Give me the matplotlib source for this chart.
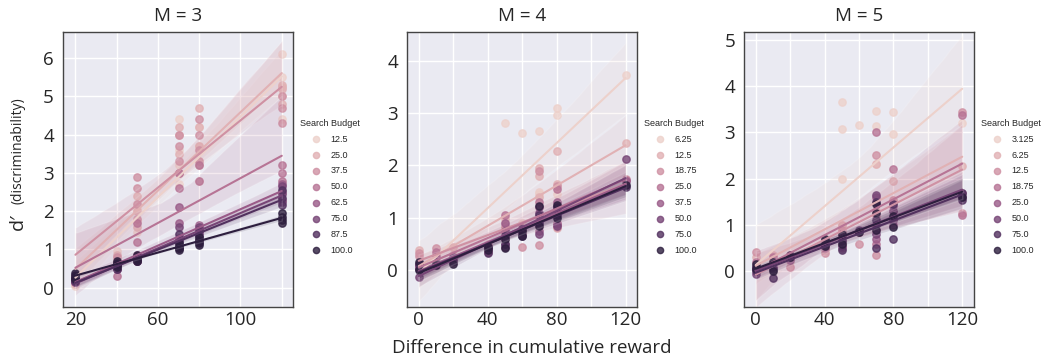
import numpy as np
import pandas as pd
import matplotlib
matplotlib.use("Agg")
import matplotlib.pyplot as plt
import seaborn as sns

# M = 3 : one list per search budget, inside it one list of d' values per reward difference
m3_budgets = [12.5, 25.0, 37.5, 50.0, 62.5, 75.0, 87.5, 100.0]
m3_diffs = [20, 40, 50, 70, 80, 120]
m3_dprime = [
    [[0.05, 0.2], [0.95, 0.65], [1.45, 1.75, 2.05], [2.7, 3.2, 3.6, 4.4], [2.8, 3.3, 3.7, 4.2], [4.4, 5.0, 5.5, 6.1]],
    [[0.1, 0.25], [0.7, 0.85], [1.6, 2.0, 2.4], [3.0, 3.5, 4.0, 4.2], [3.2, 3.7, 4.2, 4.7], [4.8, 5.2, 5.25, 5.3]],
    [[0.2, 0.3], [0.8], [1.8, 2.2, 2.6, 2.9], [3.0, 3.3, 3.7, 4.0], [3.3, 3.6, 4.0, 4.4], [4.3, 4.7, 5.0]],
    [[0.2], [0.3], [0.7, 1.2, 1.7], [2.6, 3.0], [2.8, 3.2], [2.8, 3.0, 3.2]],
    [[0.15, 0.2], [0.5, 0.58], [0.7, 0.78, 0.85], [1.1, 1.3, 1.7, 2.1], [1.25, 1.45, 1.65], [2.3, 2.5, 2.7]],
    [[0.15, 0.22], [0.5, 0.6], [0.7, 0.8], [1.05, 1.25, 1.6], [1.25, 1.4, 1.6], [2.25, 2.45, 2.65]],
    [[0.18, 0.22], [0.5, 0.62], [0.7, 0.8], [1.05, 1.2, 1.4], [1.2, 1.35, 1.5], [2.15, 2.35, 2.55]],
    [[0.24, 0.29, 0.33, 0.38], [0.55, 0.6, 0.64, 0.7], [0.7, 0.76, 0.8, 0.85], [0.98, 1.04, 1.1, 1.18],
     [1.12, 1.18, 1.25, 1.33], [1.7, 1.78, 1.86, 1.95]],
]

# M = 4
m4_budgets = [6.25, 12.5, 18.75, 25.0, 37.5, 50.0, 75.0, 100.0]
m4_diffs = [0, 10, 20, 40, 50, 60, 70, 80, 120]
m4_dprime = [
    [[0.05], [0.2], [0.3], [], [2.82, 0.95], [2.62, 0.9], [2.65, 1.5, 1.45], [3.09, 2.97, 1.45], [3.73]],
    [[0.38], [0.3], [0.45], [0.5], [1.0, 0.8], [0.75], [1.95, 1.8, 1.4], [2.28, 1.65, 0.8], [2.43]],
    [[0.33, 0.28], [0.42], [0.3], [0.45], [0.85, 0.7], [0.45], [1.9, 0.48, 1.0], [1.6, 0.82], [1.75]],
    [[0.1], [0.35], [0.2], [0.35], [1.05, 0.6], [0.8], [1.3, 0.85], [1.55, 0.9], [1.72]],
    [[0.05], [0.25], [0.15], [0.4], [0.9, 0.5], [0.7], [1.2, 0.75], [1.3, 0.88], [1.7]],
    [[-0.13, 0.1], [0.15], [0.25], [0.45], [0.75, 0.45], [0.7], [1.1, 0.7], [1.2, 0.85], [2.12]],
    [[0.02, 0.12], [0.12], [0.18], [0.33, 0.45], [0.5, 0.65], [0.65, 0.78], [0.9, 1.05], [1.05, 1.2], [1.58]],
    [[0.0, 0.15], [0.1], [0.12], [0.38, 0.45], [0.42, 0.6], [0.66, 0.75], [0.85, 1.22], [1.0, 1.25], [1.62]],
]

# M = 5
m5_budgets = [3.125, 6.25, 12.5, 18.75, 25.0, 50.0, 75.0, 100.0]
m5_diffs = [0, 10, 20, 40, 50, 60, 70, 80, 120]
m5_dprime = [
    [[0.1], [0.15], [0.2], [0.45], [3.65, 3.08, 2.0, 1.0, 0.9], [3.15, 0.85], [3.46, 3.13, 2.31, 1.3],
     [3.45, 2.96, 1.5], [3.2]],
    [[0.3], [0.35], [0.35], [0.45], [1.0], [], [2.31, 1.3], [1.95, 1.5], [2.28]],
    [[0.42], [0.25], [0.1], [0.4], [0.9, 0.6], [0.6], [2.52, 0.35, 1.2], [1.55, 1.3], [3.43, 1.25]],
    [[0.2], [0.3], [0.3], [0.5], [0.8], [0.85], [3.01, 0.9, 0.6], [2.21, 1.1], [3.38, 1.22]],
    [[0.1], [0.2], [0.25], [0.55], [0.7, 0.5], [0.85], [1.6, 0.7], [1.4, 1.0], [1.7]],
    [[0.05, -0.05], [0.1], [0.3], [0.6], [0.55, 0.75], [0.9], [1.65, 0.8, 1.0], [1.3, 1.1], [1.6]],
    [[0.0, 0.1], [-0.15, 0.05], [0.35], [0.65], [0.45, 0.65], [0.88], [1.5, 0.5, 1.1], [1.45, 0.7], [1.7, 1.55]],
    [[0.05, 0.15], [0.0, 0.2], [0.3], [0.55, 0.7], [0.6, 0.8], [0.85], [1.25, 0.9, 1.45], [1.2, 0.95], [1.6]],
]


def to_frame(budgets, diffs, dprime):
    rows = []
    for b, per_diff in zip(budgets, dprime):
        for x, ys in zip(diffs, per_diff):
            for y in ys:
                rows.append((b, x, y))
    return pd.DataFrame(rows, columns=["budget", "diff", "d"])


sns.set_theme(style="darkgrid")
plt.rcParams["font.family"] = ["Open Sans", "DejaVu Sans"]
text_col = "#262626"

fig = plt.figure(figsize=(10.45, 3.62), dpi=100)

panels = [
    ("M = 3", m3_budgets, m3_diffs, m3_dprime, 0.0603, (14, 125.4), (-0.5, 6.68),
     [20, 40, 60, 80, 100, 120], ["20", "", "60", "", "100", ""], range(0, 7)),
    ("M = 4", m4_budgets, m4_diffs, m4_dprime, 0.3895, (-6.8, 126.6), (-0.7, 4.55),
     [0, 20, 40, 60, 80, 100, 120], ["0", "", "40", "", "80", "", "120"], range(0, 5)),
    ("M = 5", m5_budgets, m5_diffs, m5_dprime, 0.7120, (-6.8, 126.8), (-0.77, 5.17),
     [0, 20, 40, 60, 80, 100, 120], ["0", "", "40", "", "80", "", "120"], range(0, 6)),
]

for title, budgets, diffs, dprime, left, xlim, ylim, xt, xtl, yt in panels:
    ax = fig.add_axes([left, 0.152, 0.220, 0.760])
    df = to_frame(budgets, diffs, dprime)
    colors = sns.cubehelix_palette(len(budgets))
    for b, c in zip(budgets, colors):
        sub = df[df["budget"] == b]
        sns.regplot(data=sub, x="diff", y="d", ax=ax, color=c, label=str(b), seed=0,
                    scatter_kws={"s": 28}, line_kws={"lw": 1.5})
    ax.set_xlim(*xlim)
    ax.set_ylim(*ylim)
    ax.set_xticks(xt)
    ax.set_xticklabels(xtl)
    ax.set_yticks(list(yt))
    ax.set_xlabel("")
    ax.set_ylabel("")
    ax.tick_params(labelsize=13.5, colors=text_col, length=0)
    ax.tick_params(axis="y", pad=6.5)
    ax.tick_params(axis="x", pad=3)
    for sp in ax.spines.values():
        sp.set_visible(True)
        sp.set_color("#444444")
        sp.set_linewidth(1.0)
    ax.set_title(title, fontsize=13.5, color=text_col, pad=8)
    leg = ax.legend(title="Search Budget", loc="upper left", bbox_to_anchor=(1.03, 0.684),
                    frameon=False, borderpad=0, borderaxespad=0, labelspacing=0.76,
                    handletextpad=0.6, handlelength=2.0, markerscale=0.85,
                    prop={"family": ["Liberation Sans"], "size": 6.5})
    leg.get_title().set_family(["Liberation Sans"])
    leg.get_title().set_fontsize(6.5)
    leg.get_title().set_color(text_col)
    for t in leg.get_texts():
        t.set_color(text_col)

fig.text(0.0172, 0.583, "(discriminability)", rotation=90, fontsize=10, ha="center", va="center",
         color=text_col)
fig.text(0.0172, 0.387, "d\u2032", rotation=90, fontsize=14, ha="center", va="center", color=text_col)
fig.text(0.509, 0.039, "Difference in cumulative reward", fontsize=13.5, ha="center", va="center",
         color=text_col)

fig.savefig("out.png", dpi=100)
